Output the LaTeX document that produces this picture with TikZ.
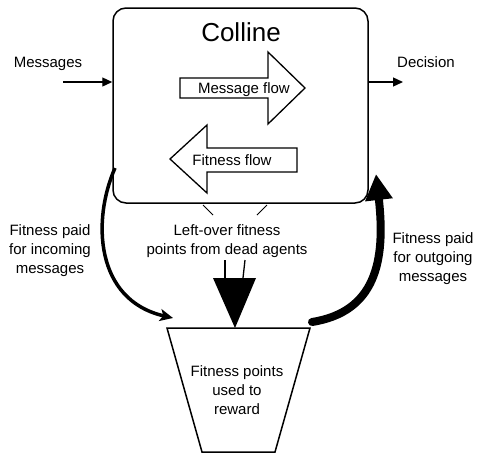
\documentclass[tikz,border=0pt]{standalone}
\usepackage{fontspec}
\setmainfont{Liberation Sans}
\usetikzlibrary{arrows.meta}
\tikzset{
  lbl/.style={font=\fontsize{15}{19}\selectfont,inner sep=0pt},
  multi/.style={lbl,align=center},
  flowarrow/.style={draw,line width=1.3pt,fill=white,line join=miter},
}
\begin{document}
\begin{tikzpicture}[x=1pt,y=-1pt]
    \useasboundingbox (0,0) rectangle (477,456);

    % the Colline box
    \node[draw,line width=1.5pt,rounded corners=13pt,minimum width=255pt,minimum height=195pt,inner sep=0pt] (colline) at (240.5,105.5) {};
    \node[lbl,font=\fontsize{26}{30}\selectfont,anchor=base] (title) at (241,41) {Colline};

    % flows inside
    \draw[flowarrow] (180,78)--(268,78)--(268,52)--(305,88)--(268,124)--(268,98)--(180,98)--cycle;
    \node[lbl,anchor=base] (msgflow) at (244,93) {Message flow};
    \draw[flowarrow] (297,148)--(207,148)--(207,125)--(170,159)--(207,193)--(207,172)--(297,172)--cycle;
    \node[lbl,anchor=base] (fitflow) at (232,165) {Fitness flow};

    % in and out
    \node[lbl,anchor=base] (msgs) at (48,67) {Messages};
    \node[lbl,anchor=base] (dec) at (426,67) {Decision};
    \coordinate (msgin) at (63,82);
    \coordinate (decout) at (403,82);
    \draw[line width=1.3pt,-{Triangle[length=10pt,width=9pt]}] (msgin)--(msgin -| colline.west);
    \draw[line width=1.3pt,-{Triangle[length=10pt,width=9pt]}] (decout -| colline.east)--(decout);

    % left-over points
    \node[multi] (leftover) at (227,241.5) {Left-over fitness\\points from dead agents};
    \draw[line width=1pt] (203,205)--(213,215);
    \draw[line width=1pt] (267,205)--(257,215);
    \draw[line width=1.3pt] (225,260)--(225,278);
    \draw[line width=1.3pt] (245,260)--(243,278);
    \fill (213,278)--(256,278)--(235,328)--cycle;

    % bucket
    \draw[line width=1.5pt,line join=miter] (167,328)--(310,328)--(275,452)--(202,452)--cycle;
    \node[multi] (bucket) at (237,390.5) {Fitness points\\used to\\reward};
    \coordinate (bucketL) at (173,318);
    \coordinate (bucketR) at (312,322);
    \coordinate (paidin) at (115,168);
    \coordinate (paidout) at (376,174);

    % payments
    \draw[line width=3.5pt,-{Stealth[length=13pt,width=12pt,inset=3pt]}] (paidin) .. controls (92,220) and (95,300) .. (bucketL);
    \draw[line width=8pt,line cap=round,-{Triangle[length=26pt,width=26pt]}] (bucketR) .. controls (375,312) and (386,262) .. (paidout);
    \node[multi] (paidinlbl) at (50,250.5) {Fitness paid\\for incoming\\messages};
    \node[multi] (paidoutlbl) at (433,258.5) {Fitness paid\\for outgoing\\messages};

\end{tikzpicture}
\end{document}
